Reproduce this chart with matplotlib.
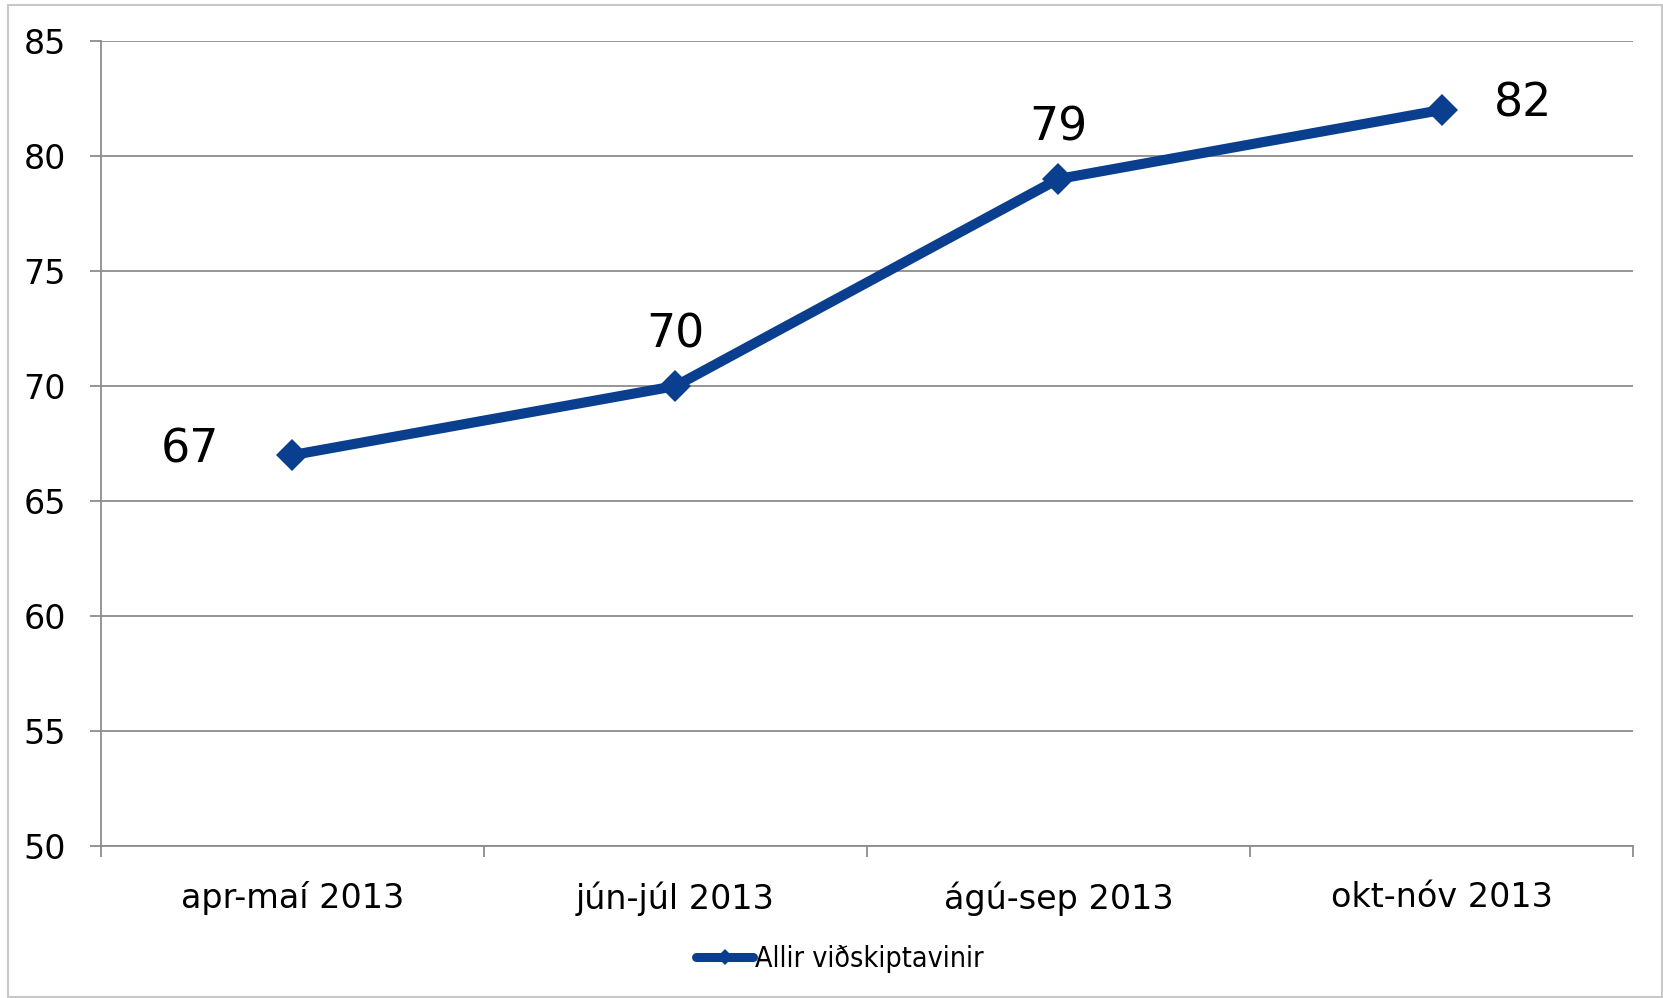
import matplotlib.pyplot as plt
import matplotlib.patches as patches

categories = ["apr-maí 2013", "jún-júl 2013", "ágú-sep 2013", "okt-nóv 2013"]
values = [67, 70, 79, 82]
series_name = "Allir viðskiptavinir"
yticks = [50, 55, 60, 65, 70, 75, 80, 85]

line_color = "#0A3E8E"
grid_color = "#8C8C8C"

plt.rcParams['font.family'] = ['DejaVu Sans']

fig = plt.figure(figsize=(16.63, 9.98), dpi=100)
ax = fig.add_axes([0.0606, 0.152, 0.9214, 0.807])

x = list(range(len(categories)))
ax.plot(x, values, color=line_color, linewidth=7.3, marker="D",
        markersize=16.5, markeredgewidth=0, label=series_name,
        solid_joinstyle="miter", zorder=3)

# data labels
offsets = [(-53, 4, "right"), (0, 37, "center"), (0, 37, "center"), (38, 4, "left")]
for xi, v, (dx, dy, ha) in zip(x, values, offsets):
    ax.annotate(str(v), (xi, v), xytext=(dx, dy), textcoords="offset points",
                ha=ha, va="center", fontsize=33, color="black")

ax.set_xlim(-0.5, len(categories) - 0.5)
ax.set_ylim(50, 85)
ax.set_yticks(yticks)
ax.set_yticklabels([str(t) for t in yticks])
ax.yaxis.grid(True, color=grid_color, linewidth=1.3)
ax.set_axisbelow(True)

# category boundaries as major ticks, labels on minor ticks
ax.set_xticks([i - 0.5 for i in range(len(categories) + 1)])
ax.set_xticklabels([])
ax.set_xticks(x, minor=True)
ax.set_xticklabels(categories, minor=True)

ax.tick_params(axis="x", which="major", length=8, width=1.3, color=grid_color)
ax.tick_params(axis="x", which="minor", length=0, pad=25, labelsize=24)
ax.tick_params(axis="y", length=8, width=1.3, color=grid_color, pad=17, labelsize=24)

for side in ["top", "right"]:
    ax.spines[side].set_visible(False)
for side in ["left", "bottom"]:
    ax.spines[side].set_color(grid_color)
    ax.spines[side].set_linewidth(1.3)

leg = fig.legend(loc="center", bbox_to_anchor=(0.505, 0.039), frameon=False,
                 prop={"size": 20.5, "stretch": "condensed"},
                 handlelength=2.0, handletextpad=0.05, markerscale=0.5)
for h in leg.get_lines():
    h.set_linewidth(6.5)
    h.set_solid_capstyle("round")

# outer chart border
fig.patches.append(patches.Rectangle((0.005, 0.001), 0.9945, 0.994,
                                     transform=fig.transFigure, fill=False,
                                     edgecolor="#C8C8C8", linewidth=1.5))

fig.savefig("out.png", dpi=100)
